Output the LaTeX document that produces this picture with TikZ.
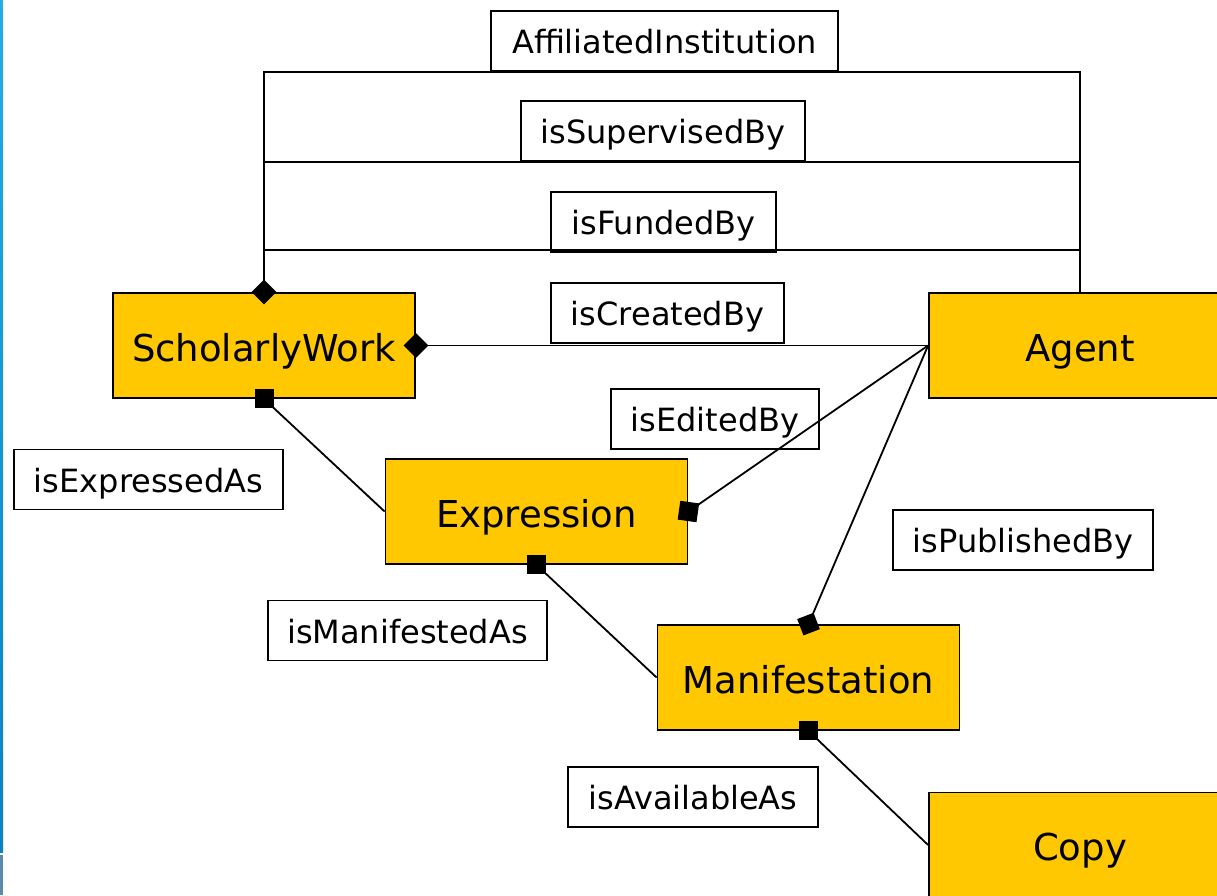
\documentclass[tikz,border=0pt]{standalone}
\usepackage{fontspec}
\setmainfont{DejaVu Sans}
\definecolor{classfill}{HTML}{FFC800}
\definecolor{bartop}{HTML}{2BA9E1}
\definecolor{barbot}{HTML}{0A82BE}
\definecolor{barfoot}{HTML}{5A8AB0}
\begin{document}
\begin{tikzpicture}[x=1pt,y=-1pt,
 classbox/.style={draw=black, line width=1.8pt, fill=classfill, minimum width=302pt, minimum height=105pt, inner sep=0pt, text height=31pt, text depth=0pt, font=\fontsize{37}{44}\selectfont},
 labelbox/.style={draw=black, line width=1.8pt, fill=white, minimum height=60pt, inner sep=0pt, text height=25pt, text depth=0pt, font=\fontsize{32}{38}\selectfont},
 conn/.style={line width=1.8pt, line join=miter},
 sqmark/.style={rectangle, fill=black, minimum size=19pt, inner sep=0pt, outer sep=0pt},
 diamark/.style={rectangle, fill=black, minimum size=17.5pt, inner sep=0pt, outer sep=0pt},
]
\useasboundingbox (0,0) rectangle (1217,895);
\begin{scope}
\clip (0,0) rectangle (1217,895);
\fill[white] (0,0) rectangle (1217,895);
\shade[top color=bartop, bottom color=barbot] (0,0) rectangle (3,852);
\fill[barfoot] (0,855) rectangle (3,895);

% labels
\node[labelbox, minimum width=347pt] (ai) at (664.5,41) {AffiliatedInstitution};
\node[labelbox, minimum width=284pt] (sup) at (663,131) {isSupervisedBy};
\node[labelbox, minimum width=225pt] (fund) at (663.5,222) {isFundedBy};
\node[labelbox, minimum width=233pt] (cre) at (667.5,313) {isCreatedBy};
\node[labelbox, minimum width=208pt] (edit) at (715,419) {isEditedBy};
\node[labelbox, minimum width=269pt] (exl) at (148.5,479.5) {isExpressedAs};
\node[labelbox, minimum width=260pt] (pub) at (1023,540) {isPublishedBy};
\node[labelbox, minimum width=279pt] (mfl) at (407.5,630.5) {isManifestedAs};
\node[labelbox, minimum width=250pt] (avail) at (693,797) {isAvailableAs};

% classes
\node[classbox] (sw) at (264,345.5) {ScholarlyWork};
\node[classbox] (ag) at (1080,345.5) {Agent};
\node[classbox] (ex) at (536.5,511.5) {Expression};
\node[classbox] (mf) at (808.5,677.5) {Manifestation};
\node[classbox] (cp) at (1080,845) {Copy};

% connectors
\draw[conn] (sw.north) |- (ag.north |- ai.south) -- (ag.north);
\draw[conn] (sw.north) |- (ag.north |- sup.south) -- (ag.north);
\draw[conn] (sw.north) |- (ag.north |- 0,250) -- (ag.north);
\draw[conn] (sw.east) -- (ag.west);
\draw[conn] (ex.east) -- (ag.west);
\draw[conn] (mf.north) -- (ag.west);
\draw[conn] (sw.south) -- (ex.west);
\draw[conn] (ex.south) -- (mf.west);
\draw[conn] (mf.south) -- (cp.west);

% end markers
\node[diamark, rotate=45] (d1) at (sw.north) {};
\node[diamark, rotate=45] (d2) at (sw.east) {};
\node[diamark, rotate=21] (d3) at (mf.north) {};
\node[sqmark] (s1) at (sw.south) {};
\node[sqmark, rotate=-8] (s2) at (ex.east) {};
\node[sqmark] (s3) at (ex.south) {};
\node[sqmark] (s4) at (mf.south) {};
\end{scope}
\end{tikzpicture}
\end{document}
